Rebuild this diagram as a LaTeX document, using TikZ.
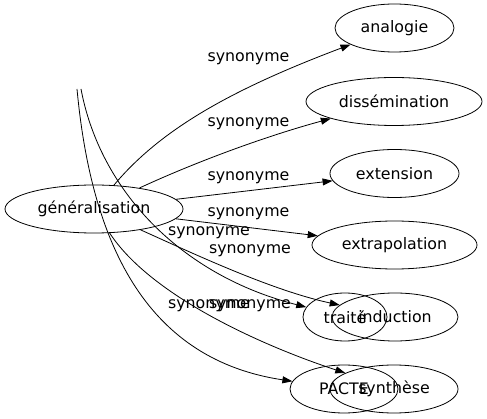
\documentclass[tikz,border=0pt]{standalone}
\usepackage{fontspec}
\setmainfont{DejaVu Sans}
\usetikzlibrary{arrows.meta,shapes.geometric}
\begin{document}
\begin{tikzpicture}[x=1pt,y=-1pt,line width=.8pt,>={Triangle[length=10pt,width=7pt]},
    word/.style={draw,ellipse,inner sep=0pt,minimum height=48pt,font=\fontsize{15.8}{19}\selectfont},
    syn/.style={inner sep=0pt,font=\fontsize{15.8}{19}\selectfont}]
      \useasboundingbox (0,0) rectangle (487,419);

      \node[word,minimum width=178pt] (gen) at (94,209) {généralisation};
      \node[word,minimum width=119pt] (ana) at (394.5,28) {analogie};
      \node[word,minimum width=176pt] (dis) at (394,101.5) {dissémination};
      \node[word,minimum width=129pt] (ext) at (394.5,173.5) {extension};
      \node[word,minimum width=165pt] (xtr) at (394.5,245) {extrapolation};
      \node[word,minimum width=126pt] (ind) at (395,317) {induction};
      \node[word,minimum width=84pt] (tra) at (345,317) {traité};
      \node[word,minimum width=128pt] (syt) at (394,389) {synthèse};
      \node[word,minimum width=108pt] (pac) at (344,389) {PACTE};

      \coordinate (tra0) at (81,89);
      \coordinate (pac0) at (77,89);

      \draw[->] (gen) .. controls (160,130) and (230,90) .. (ana);
      \node[syn] (s1) at (248.5,59) {synonyme};

      \draw[->] (gen) .. controls (200,160) and (270,135) .. (dis);
      \node[syn] (s2) at (248.5,123.5) {synonyme};

      \draw[->] (gen) -- (ext);
      \node[syn] (s3) at (248.5,177.5) {synonyme};

      \draw[->] (gen) -- (xtr);
      \node[syn] (s4) at (248.5,214) {synonyme};

      \draw[->] (gen) .. controls (150,295) and (260,345) .. (syt);
      \node[syn] (s5) at (209,232.5) {synonyme};

      \draw[->] (gen) .. controls (190,252) and (270,290) .. (ind);
      \node[syn] (s6) at (250,251) {synonyme};

      \draw[->] (pac0) .. controls (92,250) and (150,360) .. (pac);
      \node[syn] (s7) at (209,306) {synonyme};

      \draw[->] (tra0) .. controls (100,190) and (180,275) .. (tra);
      \node[syn] (s8) at (250,306) {synonyme};
    \end{tikzpicture}
\end{document}
